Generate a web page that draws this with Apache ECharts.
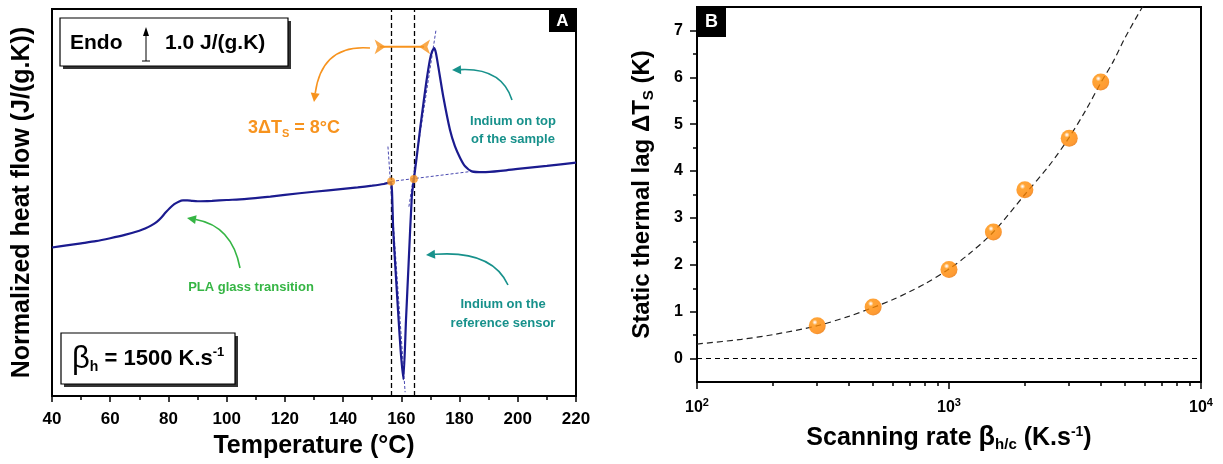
<!DOCTYPE html>
<html>
<head>
<meta charset="utf-8">
<script src="https://cdn.jsdelivr.net/npm/echarts@6/dist/echarts.min.js"></script>
<style>
  html, body { margin: 0; padding: 0; background: #fff; }
  #chart { width: 1223px; height: 464px; }
</style>
</head>
<body>
<div id="chart"></div>
<script>
// ---- panel A : DSC curve (heat flow in J/(g.K), arbitrary offset) ----
const dscTemp = [40, 45, 50, 55, 60, 65, 70, 72, 74, 76, 77.5, 79, 80.5, 82, 83.5, 85, 86.5, 88, 90, 95, 100, 106, 115, 125, 135, 145, 150, 154, 156.4,
  156.8, 157.2, 158.0, 158.9, 159.8, 160.7, 161.6, 162.5, 163.6, 164.3, 165.3, 166.5, 167.6, 168.6, 169.8, 170.6, 171.3, 171.9, 172.7,
  174.4, 176.7, 178.4, 180.2, 181.9, 184.2, 188.2, 195, 200, 210, 220];
const dscFlow = [3.53, 3.58, 3.63, 3.68, 3.75, 3.83, 3.93, 3.98, 4.05, 4.14, 4.24, 4.36, 4.47, 4.56, 4.62, 4.65, 4.65, 4.64, 4.63, 4.64, 4.66, 4.68, 4.74, 4.82, 4.89, 4.96, 5.00, 5.04, 5.08,
  4.85, 3.96, 3.00, 1.99, 1.05, 0.40, 1.80, 3.15, 4.74, 5.15, 5.69, 6.38, 6.96, 7.47, 7.99, 8.20, 8.27, 8.15, 7.83,
  7.12, 6.33, 5.94, 5.66, 5.46, 5.34, 5.32, 5.36, 5.40, 5.47, 5.55];
const onsetTemp = [156.5, 164.3];
const onsetFlow = [5.10, 5.16];
const guideTemp = [156.7, 164.45];
const tangentRef = [[155.4, 5.93], [161.3, 0.09]];
const tangentTop = [[162.6, 4.5], [171.9, 8.7]];
const baseExtra = [[156.45, 5.10], [184.2, 5.34]];
const lagBar = [[152.7, 8.3], [167.8, 8.3]];
const lagHeads = [[154.6, 8.3, -90], [166.1, 8.3, 90]];
const tempTicks = [40, 220, 20];

// ---- panel B : static thermal lag vs scanning rate ----
const rates = [300, 500, 1000, 1500, 2000, 3000, 4000];
const lags = [0.7, 1.1, 1.9, 2.7, 3.6, 4.7, 5.9];
const fitRates = [100, 150, 200, 300, 400, 500, 600, 700, 800, 1000, 1200, 1500, 2000, 2500, 3000, 3500, 4000, 4500, 5000, 6000];
const fitLags = [0.31, 0.41, 0.51, 0.70, 0.90, 1.09, 1.26, 1.43, 1.59, 1.91, 2.23, 2.70, 3.50, 4.12, 4.72, 5.31, 5.88, 6.35, 6.85, 7.6];
const lagTicks = [0, 1, 2, 3, 4, 5, 6, 7];
const lagMinor = [0.5, 1.5, 2.5, 3.5, 4.5, 5.5, 6.5];
const rateMinor = [200, 300, 400, 500, 600, 700, 800, 900, 2000, 3000, 4000, 5000, 6000, 7000, 8000, 9000];

const FONT = '"Liberation Sans", Arial, sans-serif';
const ORANGE = '#f7931e';
const TEAL = '#17918b';
const GREEN = '#35b544';
const NAVY = '#1b1b8f';

const chart = echarts.init(document.getElementById('chart'));

// glossy orange ball
const sphere = new echarts.graphic.RadialGradient(0.36, 0.3, 0.8, [
  { offset: 0, color: '#ffffff' },
  { offset: 0.06, color: '#ffe6cc' },
  { offset: 0.2, color: '#ff8f05' },
  { offset: 0.75, color: '#ff8200' },
  { offset: 1, color: '#dd6a00' }
]);

const labelStyle = { color: '#000', fontFamily: FONT, fontWeight: 'bold' };
const subRich = {
  sub: { fontSize: 15, fontWeight: 'bold', fontFamily: FONT, lineHeight: 15, padding: [14, 0, 0, 0] },
  sup: { fontSize: 14, fontWeight: 'bold', fontFamily: FONT, lineHeight: 14, padding: [0, 0, 12, 0] }
};

// curved annotation arrow: quadratic curve + filled head
function curvedArrow(x1, y1, cx, cy, x2, y2, color) {
  const dx = x2 - cx, dy = y2 - cy;
  const len = Math.sqrt(dx * dx + dy * dy);
  const ux = dx / len, uy = dy / len;
  const bx = x2 - ux * 9, by = y2 - uy * 9;
  return [
    { type: 'bezierCurve', silent: true, z: 20,
      shape: { x1: x1, y1: y1, cpx1: cx, cpy1: cy, x2: bx, y2: by },
      style: { stroke: color, lineWidth: 1.6, fill: null } },
    { type: 'polygon', silent: true, z: 20,
      shape: { points: [[x2, y2], [bx - uy * 4.5, by + ux * 4.5], [bx + uy * 4.5, by - ux * 4.5]] },
      style: { fill: color } }
  ];
}

function boxWithShadow(x, y, w, h) {
  return [
    { type: 'rect', z: 18, shape: { x: x + 3, y: y + 3, width: w, height: h }, style: { fill: '#333' } },
    { type: 'rect', z: 19, shape: { x: x, y: y, width: w, height: h }, style: { fill: '#fff', stroke: '#000', lineWidth: 1.2 } }
  ];
}

const graphics = [].concat(
  boxWithShadow(60, 18, 228, 48),
  [
    { type: 'text', z: 21, style: { x: 70, y: 43, text: 'Endo', fill: '#000', fontSize: 21, fontWeight: 'bold', fontFamily: FONT, verticalAlign: 'middle' } },
    { type: 'line', z: 21, shape: { x1: 146, y1: 61, x2: 146, y2: 34 }, style: { stroke: '#000', lineWidth: 1 } },
    { type: 'line', z: 21, shape: { x1: 142, y1: 61, x2: 150, y2: 61 }, style: { stroke: '#000', lineWidth: 1 } },
    { type: 'polygon', z: 21, shape: { points: [[146, 27], [143, 36], [149, 36]] }, style: { fill: '#000' } },
    { type: 'text', z: 21, style: { x: 165, y: 43, text: '1.0 J/(g.K)', fill: '#000', fontSize: 21, fontWeight: 'bold', fontFamily: FONT, verticalAlign: 'middle' } }
  ],
  boxWithShadow(61, 333, 174, 51),
  [
    { type: 'text', z: 21, style: { x: 72, y: 359, text: '{b|β}{s|h}{t| = 1500 K.s}{p|-1}', verticalAlign: 'middle',
      rich: {
        b: { fontSize: 31, fontFamily: FONT, fill: '#000' },
        s: { fontSize: 14, fontWeight: 'bold', fontFamily: FONT, fill: '#000', lineHeight: 14, padding: [16, 0, 0, 0] },
        t: { fontSize: 22, fontWeight: 'bold', fontFamily: FONT, fill: '#000' },
        p: { fontSize: 13, fontWeight: 'bold', fontFamily: FONT, fill: '#000', lineHeight: 13, padding: [0, 0, 14, 0] }
      } } }
  ],
  // panel letters
  [
    { type: 'rect', z: 21, shape: { x: 549, y: 9, width: 27, height: 23 }, style: { fill: '#000' } },
    { type: 'text', z: 22, style: { x: 562.5, y: 21, text: 'A', fill: '#fff', fontSize: 17, fontWeight: 'bold', fontFamily: FONT, align: 'center', verticalAlign: 'middle' } },
    { type: 'rect', z: 21, shape: { x: 697, y: 7, width: 29, height: 30 }, style: { fill: '#000' } },
    { type: 'text', z: 22, style: { x: 711.5, y: 22, text: 'B', fill: '#fff', fontSize: 18, fontWeight: 'bold', fontFamily: FONT, align: 'center', verticalAlign: 'middle' } }
  ],
  // annotations panel A
  [
    { type: 'text', z: 21, style: { x: 248, y: 128, text: '{a|3ΔT}{s|S}{a| = 8°C}', verticalAlign: 'middle',
      rich: {
        a: { fontSize: 18, fontWeight: 'bold', fontFamily: FONT, fill: ORANGE },
        s: { fontSize: 11, fontWeight: 'bold', fontFamily: FONT, fill: ORANGE, lineHeight: 11, padding: [11, 0, 0, 0] }
      } } },
    { type: 'text', z: 21, style: { x: 513, y: 130, text: 'Indium on top\nof the sample', fill: TEAL, fontSize: 13, fontWeight: 'bold', fontFamily: FONT, align: 'center', verticalAlign: 'middle', lineHeight: 18 } },
    { type: 'text', z: 21, style: { x: 251, y: 287, text: 'PLA glass transition', fill: GREEN, fontSize: 13, fontWeight: 'bold', fontFamily: FONT, align: 'center', verticalAlign: 'middle' } },
    { type: 'text', z: 21, style: { x: 503, y: 313.5, text: 'Indium on the\nreference sensor', fill: TEAL, fontSize: 13, fontWeight: 'bold', fontFamily: FONT, align: 'center', verticalAlign: 'middle', lineHeight: 19 } }
  ],
  curvedArrow(370, 48, 322, 44, 314, 102, ORANGE),
  curvedArrow(512, 100, 502, 68, 452, 70, TEAL),
  curvedArrow(508, 285, 492, 250, 426, 255, TEAL),
  curvedArrow(240, 268, 232, 226, 187, 218, GREEN)
);

const option = {
  backgroundColor: '#fff',
  animation: false,
  grid: [
    { left: 52, top: 9, width: 524, height: 388, show: true, borderColor: '#000', borderWidth: 2, backgroundColor: 'transparent' },
    { left: 697, top: 7, width: 504, height: 375, show: true, borderColor: '#000', borderWidth: 2, backgroundColor: 'transparent' }
  ],
  xAxis: [
    {
      gridIndex: 0, type: 'value', position: 'bottom', min: tempTicks[0], max: tempTicks[1], interval: tempTicks[2],
      name: 'Temperature (°C)', nameLocation: 'middle', nameGap: 38,
      nameTextStyle: { fontSize: 25, fontWeight: 'bold', fontFamily: FONT, color: '#000' },
      axisLine: { onZero: false, lineStyle: { color: '#000', width: 2 } },
      axisTick: { length: 6, lineStyle: { color: '#000', width: 1.5 } },
      minorTick: { show: true, splitNumber: 2, length: 4, lineStyle: { color: '#000', width: 1.5 } },
      axisLabel: Object.assign({ fontSize: 17, margin: 15 }, labelStyle),
      splitLine: { show: false }
    },
    {
      gridIndex: 1, type: 'log', logBase: 10, position: 'bottom', min: 100, max: 10000,
      name: 'Scanning rate {b|β}{sub|h/c}{n| (K.s}{sup|-1}{n|)}', nameLocation: 'middle', nameGap: 42,
      nameTextStyle: { fontSize: 25, fontWeight: 'bold', fontFamily: FONT, color: '#000',
        rich: Object.assign({ b: { fontSize: 27, fontFamily: FONT }, n: { fontSize: 25, fontWeight: 'bold', fontFamily: FONT } }, subRich) },
      axisLine: { onZero: false, lineStyle: { color: '#000', width: 2 } },
      axisTick: { length: 7, lineStyle: { color: '#000', width: 1.5 } },
      axisLabel: Object.assign({ fontSize: 16, margin: 18,
        formatter: function (v) { return '10{sup|' + Math.round(Math.log10(v)) + '}'; },
        rich: { sup: { fontSize: 11, fontWeight: 'bold', fontFamily: FONT, color: '#000', lineHeight: 11, padding: [0, 0, 10, 0] } } }, labelStyle),
      splitLine: { show: false }
    },
    {
      gridIndex: 1, type: 'log', logBase: 10, position: 'bottom', offset: 0, min: 100, max: 10000,
      axisLine: { show: false, onZero: false },
      axisTick: { customValues: rateMinor, length: 4, lineStyle: { color: '#000', width: 1.5 } },
      axisLabel: { show: false },
      splitLine: { show: false }
    }
  ],
  yAxis: [
    {
      gridIndex: 0, type: 'value', min: 0, max: 9.2,
      name: 'Normalized heat flow (J/(g.K))', nameLocation: 'middle', nameGap: 17,
      nameTextStyle: { fontSize: 25, fontWeight: 'bold', fontFamily: FONT, color: '#000' },
      axisLine: { show: false, onZero: false }, axisTick: { show: false }, axisLabel: { show: false }, splitLine: { show: false }
    },
    {
      gridIndex: 1, type: 'value', position: 'left', min: -0.5, max: 7.5,
      name: 'Static thermal lag ΔT{sub|S} (K)', nameLocation: 'middle', nameGap: 43,
      nameTextStyle: { fontSize: 24, fontWeight: 'bold', fontFamily: FONT, color: '#000', rich: subRich },
      axisLine: { onZero: false, lineStyle: { color: '#000', width: 2 } },
      axisTick: { customValues: lagTicks, length: 7, lineStyle: { color: '#000', width: 1.5 } },
      axisLabel: Object.assign({ customValues: lagTicks, fontSize: 16, margin: 14 }, labelStyle),
      splitLine: { show: false }
    },
    {
      gridIndex: 1, type: 'value', position: 'left', offset: 0, min: -0.5, max: 7.5,
      axisLine: { show: false, onZero: false },
      axisTick: { customValues: lagMinor, length: 4, lineStyle: { color: '#000', width: 1.5 } },
      axisLabel: { show: false },
      splitLine: { show: false }
    }
  ],
  series: [
    {
      type: 'line', xAxisIndex: 0, yAxisIndex: 0, z: 5,
      data: dscTemp.map((t, i) => [t, dscFlow[i]]),
      showSymbol: false, smooth: 0.2,
      lineStyle: { color: NAVY, width: 2.2 },
      markLine: {
        silent: true, symbol: ['none', 'none'], label: { show: false },
        lineStyle: { color: '#000', type: [5, 3], width: 1.3 },
        data: guideTemp.map(t => ({ xAxis: t }))
      }
    },
    { type: 'line', xAxisIndex: 0, yAxisIndex: 0, z: 4, data: tangentRef, showSymbol: false,
      lineStyle: { color: '#4848b0', width: 1, type: [3, 2] } },
    { type: 'line', xAxisIndex: 0, yAxisIndex: 0, z: 4, data: tangentTop, showSymbol: false,
      lineStyle: { color: '#4848b0', width: 1, type: [3, 2] } },
    { type: 'line', xAxisIndex: 0, yAxisIndex: 0, z: 4, data: baseExtra, showSymbol: false,
      lineStyle: { color: '#4848b0', width: 1, type: [3, 2] } },
    { type: 'scatter', xAxisIndex: 0, yAxisIndex: 0, z: 6,
      data: onsetTemp.map((t, i) => [t, onsetFlow[i]]),
      symbolSize: 8, itemStyle: { color: ORANGE } },
    { type: 'line', xAxisIndex: 0, yAxisIndex: 0, z: 6, data: lagBar, showSymbol: false,
      lineStyle: { color: ORANGE, width: 2 } },
    { type: 'scatter', xAxisIndex: 0, yAxisIndex: 0, z: 7,
      data: lagHeads.map(h => ({ value: [h[0], h[1]], symbolRotate: h[2] })),
      symbol: 'arrow', symbolSize: [11, 11], itemStyle: { color: ORANGE } },

    { type: 'line', xAxisIndex: 1, yAxisIndex: 1, z: 3,
      data: fitRates.map((r, i) => [r, fitLags[i]]),
      showSymbol: false, smooth: 0.3, clip: true,
      lineStyle: { color: '#222', width: 1.2, type: [6, 4] },
      markLine: {
        silent: true, symbol: ['none', 'none'], label: { show: false },
        lineStyle: { color: '#000', type: [5, 4], width: 1 },
        data: [{ yAxis: 0 }]
      }
    },
    { type: 'scatter', xAxisIndex: 1, yAxisIndex: 1, z: 6,
      data: rates.map((r, i) => [r, lags[i]]),
      symbolSize: 17, itemStyle: { color: sphere } }
  ],
  graphic: graphics
};

chart.setOption(option);
</script>
</body>
</html>
